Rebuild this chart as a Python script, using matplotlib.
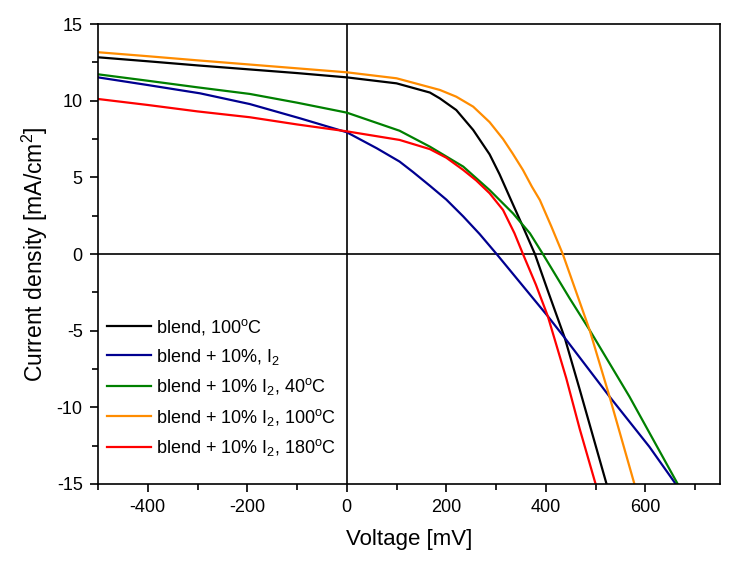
import numpy as np
import matplotlib
matplotlib.use('Agg')
import matplotlib.pyplot as plt
from matplotlib.ticker import MultipleLocator

plt.rcParams['font.family'] = ['Liberation Sans', 'DejaVu Sans']
plt.rcParams['mathtext.fontset'] = 'custom'
plt.rcParams['mathtext.rm'] = 'Liberation Sans'
plt.rcParams['mathtext.it'] = 'Liberation Sans'
plt.rcParams['axes.unicode_minus'] = False

# J-V curves (voltage in mV, current density in mA/cm2)
v_blend = [-500, -400, -300, -200, -100, 0, 100, 167, 187, 220, 254, 287, 307, 330, 354, 378, 404, 438, 468, 522]
j_blend = [12.83, 12.57, 12.30, 12.05, 11.8, 11.52, 11.13, 10.53, 10.15, 9.39, 8.09, 6.5, 5.2, 3.52, 1.78, 0, -2.4, -5.47, -8.83, -15]

v_i2 = [-500, -400, -295, -195, -94, 0, 60, 106, 133, 167, 200, 234, 267, 301, 404, 438, 528, 608, 661]
j_i2 = [11.52, 11.02, 10.48, 9.78, 8.85, 7.94, 6.9, 6.03, 5.35, 4.45, 3.55, 2.45, 1.3, 0, -4.06, -5.47, -9.3, -12.57, -15]

v_40 = [-500, -400, -300, -195, -100, 0, 106, 167, 234, 287, 334, 368, 394, 448, 488, 568, 665]
j_40 = [11.72, 11.30, 10.87, 10.44, 9.87, 9.22, 8.04, 7.0, 5.7, 4.17, 2.65, 1.35, 0, -2.9, -4.96, -9.3, -15]

v_100 = [-500, -400, -300, -200, -100, 0, 100, 187, 220, 254, 287, 314, 333, 354, 372, 388, 411, 434, 488, 528, 578]
j_100 = [13.16, 12.90, 12.63, 12.37, 12.11, 11.85, 11.46, 10.70, 10.26, 9.61, 8.6, 7.5, 6.57, 5.48, 4.39, 3.52, 1.8, 0, -4.96, -9.3, -15]

v_180 = [-500, -400, -300, -195, -100, 0, 106, 167, 200, 234, 260, 287, 314, 337, 354, 380, 404, 441, 468, 500]
j_180 = [10.11, 9.72, 9.30, 8.92, 8.45, 8.0, 7.44, 6.84, 6.28, 5.48, 4.8, 3.96, 2.87, 1.35, 0, -2.0, -4.06, -8.1, -11.4, -15]

labels = ['blend, 100$^{\\rm o}$C',
          'blend + 10%, I$_{\\rm 2}$',
          'blend + 10% I$_{\\rm 2}$, 40$^{\\rm o}$C',
          'blend + 10% I$_{\\rm 2}$, 100$^{\\rm o}$C',
          'blend + 10% I$_{\\rm 2}$, 180$^{\\rm o}$C']
colors = ['black', '#000090', '#008000', '#ff8c00', '#ff0000']

fig = plt.figure(figsize=(7.35, 5.69), dpi=100)
ax = fig.add_axes([0.1333, 0.1494, 0.8463, 0.8084])

ax.axhline(0, color='black', linewidth=1.2, zorder=1)
ax.axvline(0, color='black', linewidth=1.2, zorder=1)

series = [(v_blend, j_blend), (v_i2, j_i2), (v_40, j_40), (v_100, j_100), (v_180, j_180)]
for (v, j), lab, c in zip(series, labels, colors):
    ax.plot(v, j, color=c, linewidth=1.6, label=lab, zorder=2, solid_joinstyle='round')

ax.set_xlim(-500, 750)
ax.set_ylim(-15, 15)
ax.xaxis.set_major_locator(MultipleLocator(200))
ax.xaxis.set_minor_locator(MultipleLocator(100))
ax.yaxis.set_major_locator(MultipleLocator(5))
ax.yaxis.set_minor_locator(MultipleLocator(2.5))
ax.tick_params(which='both', direction='out', top=False, right=False, labelsize=13, width=1.2)
ax.tick_params(which='major', length=6, pad=5)
ax.tick_params(which='minor', length=4.5)
for s in ax.spines.values():
    s.set_linewidth(1.2)

ax.set_xlabel('Voltage [mV]', fontsize=16, labelpad=9)
ax.set_ylabel('Current density [mA/cm$^2$]', fontsize=16.5, labelpad=5)

ax.legend(loc='upper left', bbox_to_anchor=(0.015, 0.363), frameon=False, fontsize=13,
          handlelength=2.4, handletextpad=0.3, labelspacing=0.53, borderpad=0,
          borderaxespad=0)

fig.savefig('out.png', dpi=100)
